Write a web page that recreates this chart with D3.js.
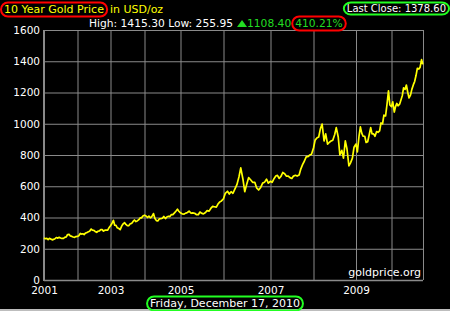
<!DOCTYPE html>
<html>
<head>
<meta charset="utf-8">
<script src="https://cdn.jsdelivr.net/npm/d3@7"></script>
<style>
  html, body { margin:0; padding:0; background:#000; }
  svg { display:block; }
  text { font-family:"DejaVu Sans", Verdana, sans-serif; }
</style>
</head>
<body>
<div id="chart"></div>
<script>
// gold price, USD/oz, sampled on the 1st and 15th of each month
const years = [2001, 2002, 2003, 2004, 2005, 2006, 2007, 2008, 2009, 2010]
const halfMonths = ["01-01","01-15","02-01","02-15","03-01","03-15","04-01","04-15","05-01","05-15","06-01","06-15",
                    "07-01","07-15","08-01","08-15","09-01","09-15","10-01","10-15","11-01","11-15","12-01","12-15"]
const p2001 = [270,264,266,259,267,263,257,260,264,272,268,273,269,266,266,273,276,291,292,282,279,275,273,278]
const p2002 = [279,283,298,294,296,291,301,303,309,312,326,319,318,311,305,312,314,322,322,313,319,320,319,334]
const p2003 = [347,360,382,351,350,334,329,322,345,358,367,356,348,347,360,362,375,384,374,378,386,397,398,410]
const p2004 = [415,410,400,409,398,405,425,395,380,378,392,393,395,407,393,403,408,406,419,418,430,440,453,440]
const p2005 = [430,423,422,428,432,441,427,430,427,419,418,435,426,423,432,444,441,458,471,469,466,486,500,506]
const p2006 = [520,555,568,550,565,555,585,610,660,718,645,565,615,655,640,625,625,590,576,590,620,625,645,620]
const p2007 = [632,625,650,665,670,650,665,688,680,665,665,655,650,665,670,665,672,710,740,760,790,790,800,805]
const p2008 = [845,895,910,915,970,998,890,935,870,880,890,895,930,975,915,800,830,780,890,840,730,750,780,850]
const p2009 = [870,820,920,980,940,920,920,880,885,925,975,935,935,920,950,945,955,1005,1000,1055,1050,1120,1210,1120]
const p2010 = [1110,1140,1075,1110,1130,1115,1125,1150,1180,1230,1220,1248,1200,1165,1185,1220,1250,1270,1310,1355,1350,1362,1410,1380]
const pricesByYear = [p2001, p2002, p2003, p2004, p2005, p2006, p2007, p2008, p2009, p2010]
const yTicks = [0, 200, 400, 600, 800, 1000, 1200, 1400, 1600]
const yearLabels = [2001, 2003, 2005, 2007, 2009]
const lastDay = "2010-12-17"

const parse = d3.timeParse("%Y-%m-%d")
const data = years.flatMap((yr, i) => halfMonths.map((hm, j) => ({date: parse(`${yr}-${hm}`), value: pricesByYear[i][j]})))

const width = 450, height = 311
const margin = {left:44, right:423, top:30, bottom:280}

const svg = d3.select("#chart").append("svg")
  .attr("width", width).attr("height", height)
  .style("background-color", "#000")

// the source chart spaces its years unevenly, so the time scale is piecewise
const xBreaks = years.map(y => new Date(y, 0, 1)).concat([parse(lastDay)])
const x = d3.scaleTime()
  .domain(xBreaks)
  .range([margin.left, 77.5, 110.5, 144.5, 180.5, 223.5, 270.5, 313.5, 356, 391.5, margin.right])
const y = d3.scaleLinear().domain([0, 1600]).range([margin.bottom, margin.top])

const grid = "#8a8a8a"

// horizontal grid + y labels
const yAxis = d3.axisLeft(y).tickValues(yTicks).tickSize(-(margin.right - margin.left))
  .tickPadding(4).tickFormat(d3.format("d"))
const yGroup = svg.append("g").attr("transform", `translate(${margin.left},0)`).call(yAxis)
yGroup.select(".domain").remove()
yGroup.selectAll("line").attr("stroke", grid)
yGroup.selectAll("text").attr("fill", "#fff").style("font-size", "10.5px").style("font-family", "DejaVu Sans")

// vertical grid at each year
const xGrid = d3.axisBottom(x).tickValues(xBreaks).tickSize(-(margin.bottom - margin.top)).tickFormat("")
const xgGroup = svg.append("g").attr("transform", `translate(0,${margin.bottom})`).call(xGrid)
xgGroup.select(".domain").remove()
xgGroup.selectAll("line").attr("stroke", grid)

// year labels
const xAxis = d3.axisBottom(x).tickValues(yearLabels.map(d => new Date(d, 0, 1)))
  .tickSize(0).tickPadding(7).tickFormat(d3.timeFormat("%Y"))
const xGroup = svg.append("g").attr("transform", `translate(0,${margin.bottom})`).call(xAxis)
xGroup.select(".domain").remove()
xGroup.selectAll("text").attr("fill", "#fff").style("font-size", "10.5px").style("font-family", "DejaVu Sans")

// axis frame
svg.append("line").attr("x1", margin.left).attr("x2", margin.left).attr("y1", margin.top).attr("y2", margin.bottom + 1)
  .attr("stroke", grid).attr("stroke-width", 2)
svg.append("line").attr("x1", margin.left).attr("x2", margin.right).attr("y1", margin.bottom + 0.5).attr("y2", margin.bottom + 0.5)
  .attr("stroke", grid).attr("stroke-width", 1.5)

// price line
const line = d3.line().x(d => x(d.date)).y(d => y(d.value))
svg.append("path").datum(data)
  .attr("d", line)
  .attr("fill", "none")
  .attr("stroke", "#ffff00")
  .attr("stroke-width", 1.7)
  .attr("stroke-linejoin", "round")

svg.append("text").attr("x", 421).attr("y", 276).attr("text-anchor", "end")
  .attr("fill", "#fff").style("font-size", "11px").text("goldprice.org")

// helper for the rounded outlines around some labels
function outline(node, color){
  const b = node.getBBox()
  svg.append("rect")
    .attr("x", b.x - 3).attr("y", b.y - 0.5)
    .attr("width", b.width + 6).attr("height", b.height + 1)
    .attr("rx", 7).attr("ry", 7)
    .attr("fill", "none").attr("stroke", color).attr("stroke-width", 2)
}

// title
const tA = svg.append("text").attr("x", 4).attr("y", 13).attr("fill", "#ffff00")
  .style("font-size", "11px").text("10 Year Gold Price")
svg.append("text").attr("x", 4 + tA.node().getComputedTextLength() + 6).attr("y", 13).attr("fill", "#ffff00")
  .style("font-size", "11px").text("in USD/oz")
outline(tA.node(), "#ff0000")

// last close
const lc = svg.append("text").attr("x", 446).attr("y", 12).attr("text-anchor", "end")
  .attr("fill", "#fff").style("font-size", "10px").text("Last Close: 1378.60")
outline(lc.node(), "#22ff22")

// high / low / change line
const hl = svg.append("text").attr("x", 89).attr("y", 27).attr("fill", "#fff")
  .style("font-size", "10.7px").text("High: 1415.30 Low: 255.95")
let cx = 89 + hl.node().getComputedTextLength() + 4
svg.append("path")
  .attr("d", `M${cx},27 L${cx + 10},27 L${cx + 5},20 Z`)
  .attr("fill", "#22dd22")
cx += 10
const ch = svg.append("text").attr("x", cx).attr("y", 27).attr("fill", "#22dd22")
  .style("font-size", "10.7px").text("1108.40")
cx += ch.node().getComputedTextLength() + 4
const pc = svg.append("text").attr("x", cx).attr("y", 27).attr("fill", "#22dd22")
  .style("font-size", "10.7px").text("410.21%")
outline(pc.node(), "#ff0000")

// date
svg.append("rect").attr("x", 0).attr("y", 309).attr("width", width).attr("height", 2).attr("fill", "#bdbdbd")
const dt = svg.append("text").attr("x", 225).attr("y", 307).attr("text-anchor", "middle")
  .attr("fill", "#fff").style("font-size", "11px").text("Friday, December 17, 2010")
outline(dt.node(), "#22ff22")
</script>
</body>
</html>
